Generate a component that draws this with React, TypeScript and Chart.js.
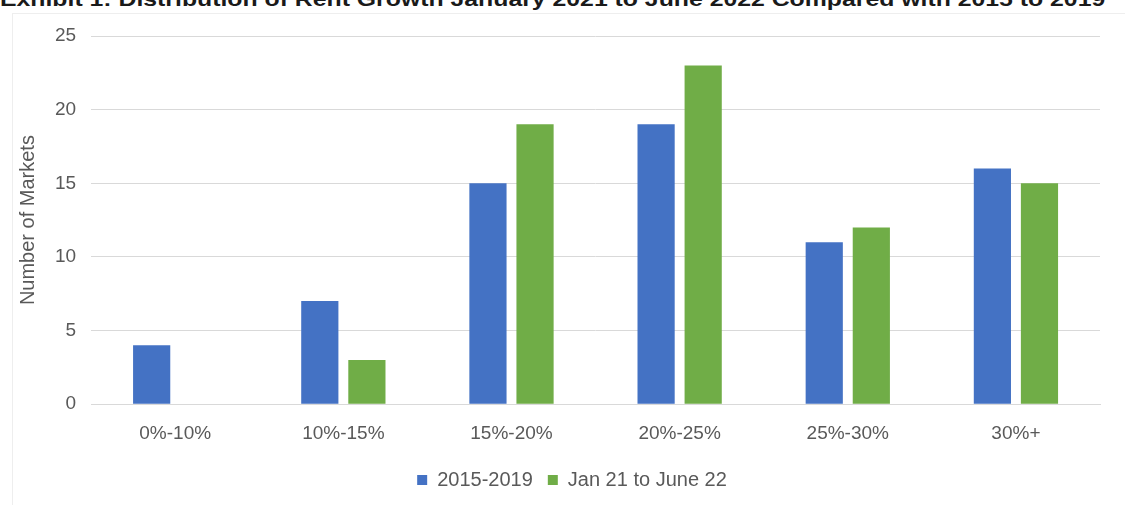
import React, { useEffect, useRef } from "react";
import { Chart, registerables } from "chart.js";

Chart.register(...registerables);

const titleText = "Exhibit 1: Distribution of Rent Growth January 2021 to June 2022 Compared with 2015 to 2019";
const categories = ["0%-10%", "10%-15%", "15%-20%", "20%-25%", "25%-30%", "30%+"];
const series2015 = [4, 7, 15, 19, 11, 16];
const seriesJan21 = [0, 3, 19, 23, 12, 15];
const seriesNames = ["2015-2019", "Jan 21 to June 22"];
const yTitle = "Number of Markets";

const FONT = "'Liberation Sans', Arial, sans-serif";
const TXT = "#595959";

const legendShift = {
  id: "legendShift",
  afterLayout(chart: any) {
    const lg = chart.legend;
    if (lg) {
      lg.left += 14;
      lg.right += 14;
      if (lg.legendHitBoxes) lg.legendHitBoxes.forEach((b: any) => (b.left += 14));
    }
  },
};

export default function App() {
  const ref = useRef<HTMLCanvasElement | null>(null);
  useEffect(() => {
    document.body.style.margin = "0";
    const ctx = ref.current!;
    const chart = new Chart(ctx, {
      type: "bar",
      data: {
        labels: categories,
        datasets: [
          { label: seriesNames[0], data: series2015, backgroundColor: "#4472C4", barPercentage: 0.79, categoryPercentage: 0.56 },
          { label: seriesNames[1], data: seriesJan21, backgroundColor: "#70AD47", barPercentage: 0.79, categoryPercentage: 0.56 },
        ],
      },
      plugins: [legendShift],
      options: {
        animation: false,
        responsive: false,
        maintainAspectRatio: false,
        layout: { padding: { left: 16, right: 25, top: 36, bottom: 5 } },
        plugins: {
          legend: {
            position: "bottom",
            labels: { boxWidth: 10, boxHeight: 10, color: TXT, font: { family: FONT, size: 20 }, padding: 15 },
          },
          tooltip: { enabled: false },
        },
        scales: {
          x: {
            grid: { display: false },
            border: { color: "#d9d9d9" },
            ticks: { color: TXT, font: { family: FONT, size: 19 }, padding: 10 },
          },
          y: {
            min: 0,
            max: 25,
            ticks: { stepSize: 5, color: TXT, font: { family: FONT, size: 19 }, padding: 15 },
            grid: { color: "#d9d9d9", drawTicks: false },
            border: { display: false },
            title: { display: true, text: yTitle, color: TXT, font: { family: FONT, size: 20 }, padding: { top: 0, bottom: 0 } },
          },
        },
      },
    });
    return () => chart.destroy();
  }, []);
  return (
    <div style={{ position: "relative", width: 1125, height: 505, background: "#fff", overflow: "hidden" }}>
      <div style={{ position: "absolute", left: 0, top: 0, width: 1125, height: 12, overflow: "hidden" }}>
        <div style={{ position: "absolute", left: 0, top: -12, whiteSpace: "nowrap", fontFamily: FONT, fontWeight: "bold", fontSize: 20, color: "#1a1a1a", transform: "scaleX(1.24)", transformOrigin: "left top" }}>
          {titleText}
        </div>
      </div>
      <div style={{ position: "absolute", left: 12, top: 13, width: 1113, height: 492, borderLeft: "1px solid #eeeeee", borderTop: "1px solid #eeeeee" }} />
      <canvas ref={ref} width={1125} height={505} style={{ position: "absolute", left: 0, top: 0 }} />
    </div>
  );
}
